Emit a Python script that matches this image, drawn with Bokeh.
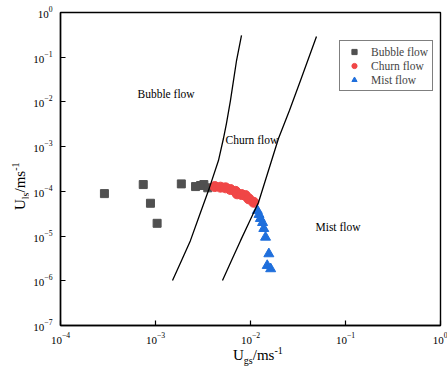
from bokeh.plotting import figure
from bokeh.layouts import column, row
from bokeh.models import Div, Label, Legend, LegendItem, FixedTicker, LogTickFormatter
from bokeh.embed import file_html
from bokeh.resources import INLINE

# Flow-pattern observations: superficial gas velocity (U_gs) vs superficial liquid velocity (U_ls)
bubble_ugs = [2.9e-4, 7.43e-4, 8.85e-4, 1.04e-3, 1.87e-3, 2.64e-3, 2.98e-3, 3.23e-3, 3.55e-3]
bubble_uls = [8.9e-5, 1.42e-4, 5.42e-5, 1.93e-5, 1.47e-4, 1.28e-4, 1.35e-4, 1.42e-4, 1.2e-4]

churn_ugs = [4.21e-3, 4.83e-3, 5.46e-3, 6.15e-3, 6.95e-3, 7.24e-3, 8.04e-3, 8.85e-3, 9.6e-3, 1.08e-2]
churn_uls = [1.28e-4, 1.24e-4, 1.2e-4, 1.1e-4, 1.0e-4, 8.8e-5, 8.5e-5, 8.05e-5, 6.8e-5, 5.7e-5]

mist_ugs = [1.18e-2, 1.23e-2, 1.27e-2, 1.34e-2, 1.38e-2, 1.44e-2, 1.56e-2, 1.50e-2, 1.63e-2]
mist_uls = [3.72e-5, 3.03e-5, 2.46e-5, 2.0e-5, 1.47e-5, 9.4e-6, 4.0e-6, 2.19e-6, 1.85e-6]

# Transition boundaries
bubble_churn_ugs = [8.04e-3, 7.13e-3, 6.62e-3, 6.15e-3, 5.58e-3, 5.19e-3, 4.6e-3, 3.61e-3, 2.9e-3, 2.33e-3, 1.88e-3, 1.51e-3]
bubble_churn_uls = [0.306, 0.0844, 0.0301, 0.0107, 3.29e-3, 1.52e-3, 4.89e-4, 1.04e-4, 2.88e-5, 7.9e-6, 2.83e-6, 1.01e-6]

churn_mist_ugs = [0.0495, 0.0336, 0.0257, 0.0197, 0.01546, 0.01213, 9.76e-3, 7.85e-3, 6.31e-3, 5.07e-3]
churn_mist_uls = [0.290, 0.0301, 6.42e-3, 1.52e-3, 2.92e-4, 5.62e-5, 2.11e-5, 7.9e-6, 2.83e-6, 1.01e-6]

x_ticks = [1e-4, 1e-3, 1e-2, 1e-1, 1e0]
y_ticks = [1e-7, 1e-6, 1e-5, 1e-4, 1e-3, 1e-2, 1e-1, 1e0]

SERIF = "Liberation Serif"
YDIV_W = 28          # strip left of the plot holding the y title
XDIV_H = 31          # strip below the plot holding the x title

p = figure(
    x_axis_type="log", y_axis_type="log",
    x_range=(1e-4, 1.0), y_range=(1e-7, 1.0),
    frame_width=380, frame_height=313,
    min_border_left=60 - YDIV_W, min_border_right=7, min_border_top=12, min_border_bottom=22,
    output_backend="svg", toolbar_location=None,
    background_fill_color="white", border_fill_color="white",
)
p.grid.visible = False
p.outline_line_color = "black"
p.outline_line_width = 1.4

for ax, ticks in ((p.xaxis[0], x_ticks), (p.yaxis[0], y_ticks)):
    ax.ticker = FixedTicker(ticks=ticks, minor_ticks=[])
    ax.formatter = LogTickFormatter()
    ax.axis_line_color = "black"
    ax.axis_line_width = 1.4
    ax.major_tick_in = 5
    ax.major_tick_out = 0
    ax.major_tick_line_color = "black"
    ax.major_tick_line_width = 1.2
    ax.minor_tick_line_color = None
    ax.major_label_text_font = SERIF
    ax.major_label_text_font_size = "11px"
    ax.major_label_text_color = "black"
p.xaxis.major_label_standoff = 7
p.yaxis.major_label_standoff = 8

r_bubble = p.scatter(bubble_ugs, bubble_uls, marker="square", size=8,
                     fill_color="#505050", line_color="#505050")
r_churn = p.scatter(churn_ugs, churn_uls, marker="circle", size=10,
                    fill_color="#f04646", line_color="#f04646")
r_mist = p.scatter(mist_ugs, mist_uls, marker="triangle", size=10,
                   fill_color="#1f6fdc", line_color="#1f6fdc")

p.line(bubble_churn_ugs, bubble_churn_uls, line_color="black", line_width=1.3)
p.line(churn_mist_ugs, churn_mist_uls, line_color="black", line_width=1.3)

# Regime names inside the map
for txt, x, y in (("Bubble flow", 6.46e-4, 0.0154),
                  ("Churn flow", 5.46e-3, 1.44e-3),
                  ("Mist flow", 0.0483, 1.63e-5)):
    p.add_layout(Label(x=x, y=y, text=txt, text_font=SERIF, text_font_size="11.5px",
                       text_baseline="middle", text_align="left", text_color="black"))

legend = Legend(
    items=[LegendItem(label="Bubble flow", renderers=[r_bubble]),
           LegendItem(label="Churn flow", renderers=[r_churn]),
           LegendItem(label="Mist flow", renderers=[r_mist])],
    location=(279, 234),
    label_text_font=SERIF, label_text_font_size="11.5px",
    glyph_width=20, glyph_height=13, label_height=13, spacing=1,
    padding=4, label_standoff=7, margin=0,
    border_line_color="black", border_line_width=1,
    background_fill_color="white", background_fill_alpha=1,
)
p.add_layout(legend)

# Axis titles with subscripts / superscripts
SUB = "font-size:10px;line-height:0;vertical-align:-3.5px;"
SUP = "font-size:10px;line-height:0;vertical-align:6px;"
BOX = f"font-family:'{SERIF}';font-size:15px;line-height:15px;white-space:nowrap;color:black;"


def title_html(main, sub, unit, sup, transform):
    return (f'<div style="{BOX}width:max-content;transform-origin:0 0;transform:{transform};">'
            f'{main}<span style="{SUB}">{sub}</span>{unit}<span style="{SUP}">{sup}</span></div>')


plot_h = 12 + 313 + 22
y_title = Div(text=title_html("U", "ls", "/ms", "-1", "translate(13px, 210px) rotate(-90deg)"),
              width=YDIV_W, height=plot_h, margin=0)
x_title = Div(text=title_html("U", "gs", "/ms", "-1", "translate(233px, 1px)"),
              width=447, height=XDIV_H, margin=0)

layout = column(row(y_title, p, spacing=0), x_title, spacing=0)

open("out.html", "w").write(file_html(layout, INLINE))
